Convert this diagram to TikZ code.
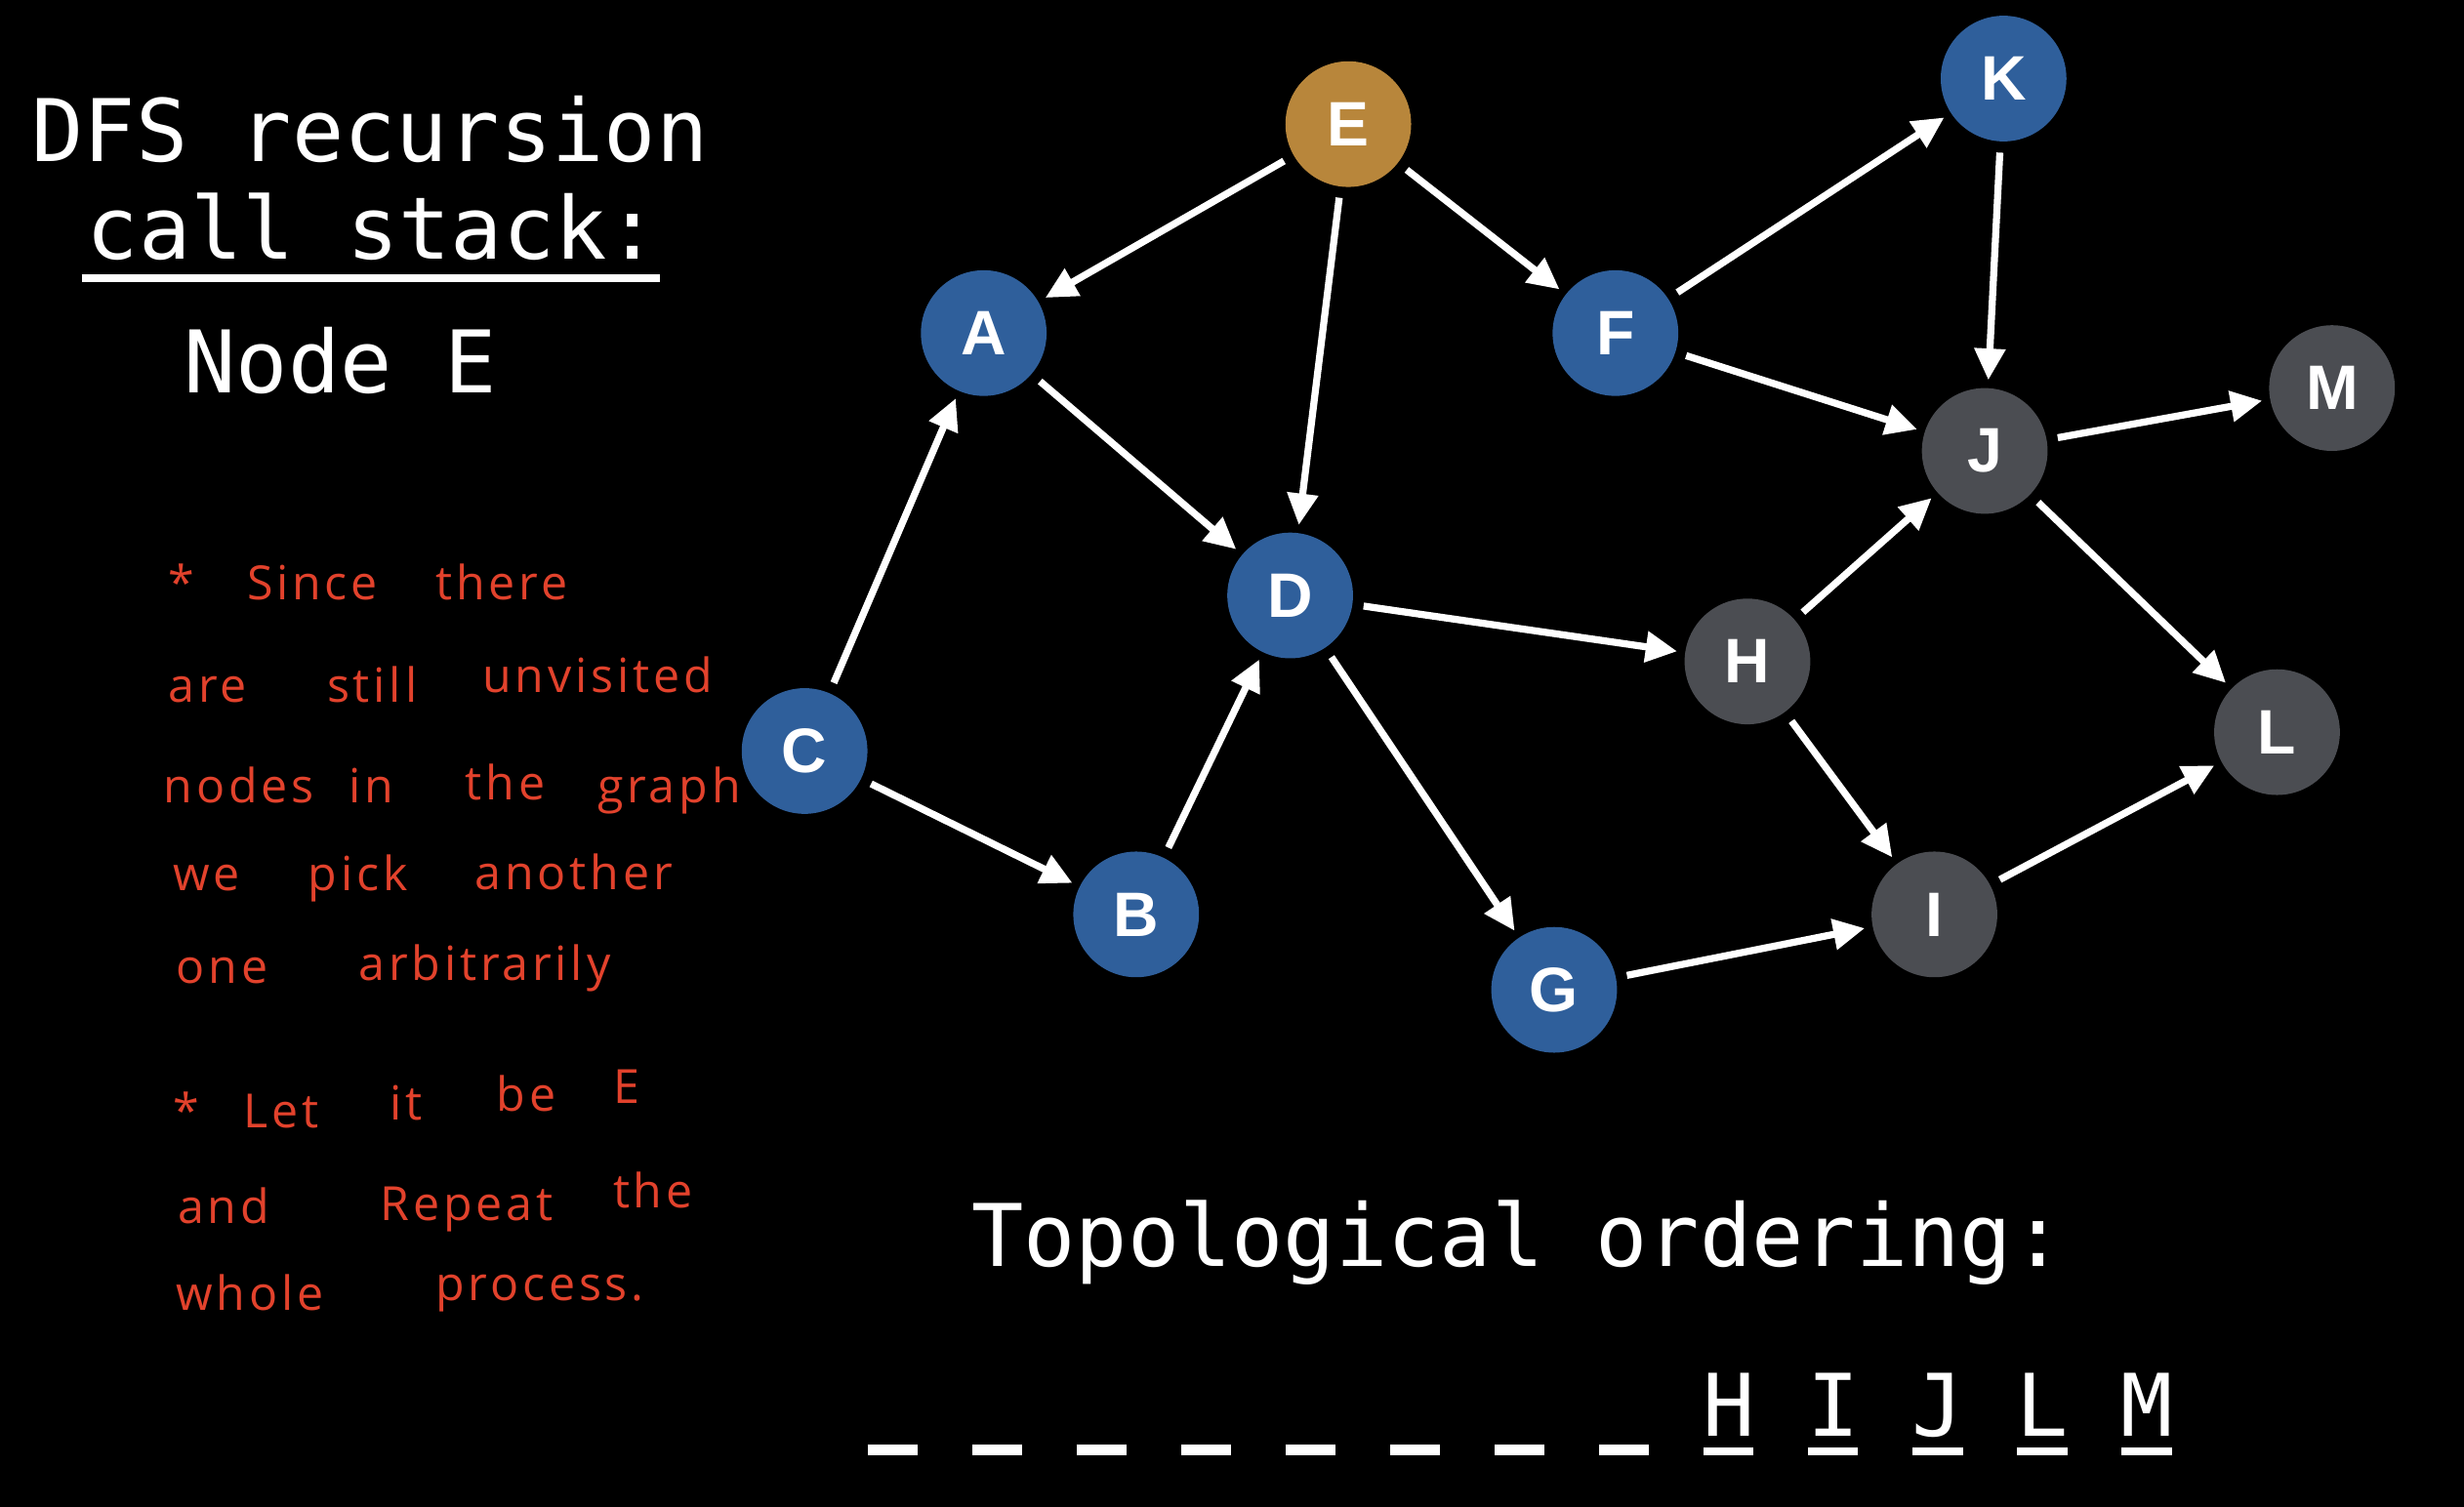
\documentclass[tikz,border=0pt]{standalone}
\usepackage{fontspec}
\usetikzlibrary{arrows.meta}
\newfontfamily\monof{DejaVu Sans Mono}
\newfontfamily\nodef{Liberation Sans}
\newfontfamily\handf[LetterSpace=8]{Open Sans}
\definecolor{nblue}{RGB}{47,95,155}
\definecolor{ngold}{RGB}{184,134,59}
\definecolor{ngray}{RGB}{75,77,82}
\definecolor{hred}{RGB}{226,66,44}
\begin{document}
\begin{tikzpicture}[x=1pt,y=-1pt,
  gnode/.style={circle,minimum size=80pt,inner sep=0pt,text=white,
    font=\nodef\bfseries\fontsize{40}{40}\selectfont},
  bluenode/.style={gnode,fill=nblue},
  goldnode/.style={gnode,fill=ngold},
  graynode/.style={gnode,fill=ngray},
  edge/.style={draw=white,line width=4.5pt,shorten <=7pt,shorten >=5pt,
    -{Triangle[length=20pt,width=19pt]}},
  mono/.style={text=white,inner sep=0pt,anchor=base west,
    font=\monof\fontsize{55}{55}\selectfont},
  hand/.style={text=hred,inner sep=0pt,anchor=base west,
    font=\handf\fontsize{30}{30}\selectfont},
  dashbar/.style={draw=white,line width=7pt},
  ulbar/.style={draw=white,line width=5pt}]
\fill[black] (0,0) rectangle (1568,959);
\useasboundingbox (0,0) rectangle (1568,959);

% graph nodes
\node[goldnode] (E) at (858,79) {E};
\node[bluenode] (A) at (626,212) {A};
\node[bluenode] (F) at (1028,212) {F};
\node[bluenode] (K) at (1275,50) {K};
\node[graynode] (M) at (1484,247) {M};
\node[graynode] (J) at (1263,287) {J};
\node[bluenode] (D) at (821,379) {D};
\node[graynode] (H) at (1112,421) {H};
\node[graynode] (L) at (1449,466) {L};
\node[bluenode] (C) at (512,478) {C};
\node[bluenode] (B) at (723,582) {B};
\node[graynode] (I) at (1231,582) {I};
\node[bluenode] (G) at (989,630) {G};

% edges
\draw[edge] (E) -- (A);
\draw[edge] (E) -- (D);
\draw[edge] (E) -- (F);
\draw[edge] (F) -- (K);
\draw[edge] (K) -- (J);
\draw[edge] (F) -- (J);
\draw[edge] (J) -- (M);
\draw[edge] (J) -- (L);
\draw[edge] (A) -- (D);
\draw[edge] (C) -- (A);
\draw[edge] (C) -- (B);
\draw[edge] (B) -- (D);
\draw[edge] (D) -- (H);
\draw[edge] (D) -- (G);
\draw[edge] (H) -- (J);
\draw[edge] (H) -- (I);
\draw[edge] (G) -- (I);
\draw[edge] (I) -- (L);

% title
\node[mono] (t1) at (20,103) {DFS recursion};
\node[mono] (t2) at (55,165) {call stack:};
\coordinate (ul1) at (52,177);
\coordinate (ul2) at (420,177);
\draw[ulbar] (ul1) -- (ul2);
\node[mono] (t3) at (117,250) {Node E};

% notes (word by word)
\node[hand] (h1a) at (107,382) {*};
\node[hand] (h1b) at (157,382) {Since};
\node[hand] (h1c) at (277,382) {there};
\node[hand] (h2a) at (107,447) {are};
\node[hand] (h2b) at (208,447) {still};
\node[hand] (h2c) at (307,441) {unvisited};
\node[hand] (h3a) at (104,511) {nodes};
\node[hand] (h3b) at (222,511) {in};
\node[hand] (h3c) at (296,509) {the};
\node[hand] (h3d) at (380,511) {graph};
\node[hand] (h4a) at (110,567) {we};
\node[hand] (h4b) at (196,567) {pick};
\node[hand] (h4c) at (302,566) {another};
\node[hand] (h5a) at (112,626) {one};
\node[hand] (h5b) at (228,624) {arbitrarily};
\node[hand] (h6a) at (110,718) {*};
\node[hand] (h6b) at (155,718) {Let};
\node[hand] (h6c) at (248,713) {it};
\node[hand] (h6d) at (316,707) {be};
\node[hand] (h6e) at (390,702) {E};
\node[hand] (h7a) at (113,779) {and};
\node[hand] (h7b) at (242,777) {Repeat};
\node[hand] (h7c) at (390,769) {the};
\node[hand] (h8a) at (112,834) {whole};
\node[hand] (h8b) at (277,828) {process.};

% topological ordering
\node[mono] (tp) at (618,806) {Topological ordering:};
\foreach \i in {0,...,7} {
  \draw[dashbar] ({552+\i*66.5},923) -- ({584+\i*66.5},923);
}
\foreach \i/\l in {8/H,9/I,10/J,11/L,12/M} {
  \draw[ulbar] ({552+\i*66.5},924) -- ({584+\i*66.5},924);
  \node[mono,anchor=base] at ({568+\i*66.5},914) {\l};
}
\end{tikzpicture}
\end{document}
